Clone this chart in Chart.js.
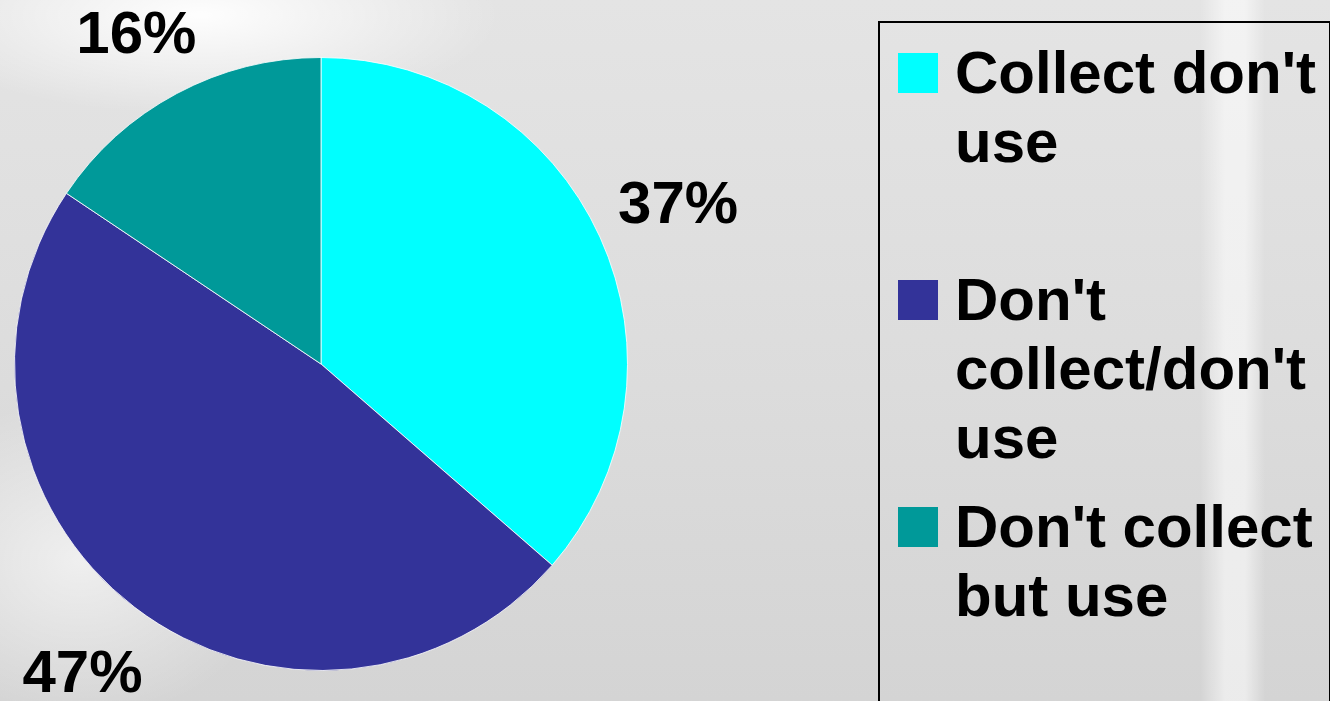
<!DOCTYPE html>
<html>
<head>
<meta charset="utf-8">
<script src="https://cdn.jsdelivr.net/npm/chart.js@4"></script>
<style>
  html, body { margin: 0; padding: 0; }
  body {
    width: 1330px; height: 701px; overflow: hidden; position: relative;
    font-family: "Liberation Sans", Arial, sans-serif;
    background:
      radial-gradient(ellipse 300px 100px at 200px 15px, rgba(255,255,255,0.95), rgba(255,255,255,0) 100%),
      radial-gradient(ellipse 200px 160px at 80px 560px, rgba(255,255,255,0.6), rgba(255,255,255,0) 100%),
      linear-gradient(90deg, rgba(255,255,255,0) 1200px, rgba(255,255,255,0.55) 1225px, rgba(255,255,255,0.55) 1245px, rgba(255,255,255,0) 1265px),
      linear-gradient(180deg, #e4e4e4 0%, #dcdcdc 55%, #d4d4d4 100%);
  }
  #chart { position: absolute; left: 0; top: 0; }
  #legend {
    position: absolute; left: 878px; top: 21px; width: 449px; height: 700px;
    border: 2px solid #000;
  }
  .item { position: absolute; left: 0; width: 449px; }
  .swatch { position: absolute; left: 18px; width: 40px; height: 40px; }
  .text {
    position: absolute; left: 75px; width: 372px;
    font-weight: bold; font-size: 60px; line-height: 69px; color: #000;
  }
</style>
</head>
<body>
<canvas id="chart" width="1330" height="701"></canvas>
<div id="legend"></div>
<script>
const categories = ["Collect don't use", "Don't collect/don't use", "Don't collect but use"];
const shares = [36.4, 48.0, 15.6];
// percent labels as printed on the slide
const shareLabels = ['37%', '47%', '16%'];
const sliceColors = ['#00FFFF', '#333399', '#009999'];

// legend as html so the long labels wrap like the original
const legendBox = document.getElementById('legend');
categories.forEach((name, i) => {
    const item = document.createElement('div');
    item.className = 'item';
    item.style.top = (15 + i * 227) + 'px';
    const sw = document.createElement('div');
    sw.className = 'swatch';
    sw.style.top = '15px';
    sw.style.background = sliceColors[i];
    const txt = document.createElement('div');
    txt.className = 'text';
    txt.style.top = '0px';
    txt.textContent = name;
    item.appendChild(sw);
    item.appendChild(txt);
    legendBox.appendChild(item);
});

// percent labels outside each slice, kept inside the canvas
const percentLabels = {
    id: 'percentLabels',
    afterDatasetsDraw(chart) {
        const ctx = chart.ctx;
        const meta = chart.getDatasetMeta(0);
        const capH = 43;
        ctx.save();
        ctx.font = 'bold 60px "Liberation Sans", Arial, sans-serif';
        ctx.fillStyle = '#000';
        ctx.textAlign = 'center';
        ctx.textBaseline = 'alphabetic';
        meta.data.forEach((arc, i) => {
            const p = arc.getProps(['x', 'y', 'startAngle', 'endAngle', 'outerRadius'], true);
            const mid = (p.startAngle + p.endAngle) / 2;
            const r = p.outerRadius * 1.28;
            const x = p.x + Math.cos(mid) * r;
            let base = p.y + Math.sin(mid) * r + capH / 2;
            base = Math.max(base, 10 + capH);
            base = Math.min(base, chart.height - 9);
            ctx.fillText(shareLabels[i], x, base);
        });
        ctx.restore();
    }
};

const pieCanvas = document.getElementById('chart').getContext('2d');

new Chart(pieCanvas, {
    type: 'pie',
    data: {
        labels: categories,
        datasets: [{
            data: shares,
            backgroundColor: sliceColors,
            borderColor: 'rgba(255,255,255,0.8)',
            borderWidth: 1
        }]
    },
    options: {
        responsive: false,
        animation: false,
        layout: {
            padding: { left: 14, top: 57, right: 702, bottom: 30 }
        },
        plugins: {
            legend: { display: false },
            tooltip: { enabled: false }
        }
    },
    plugins: [percentLabels]
});
</script>
</body>
</html>
